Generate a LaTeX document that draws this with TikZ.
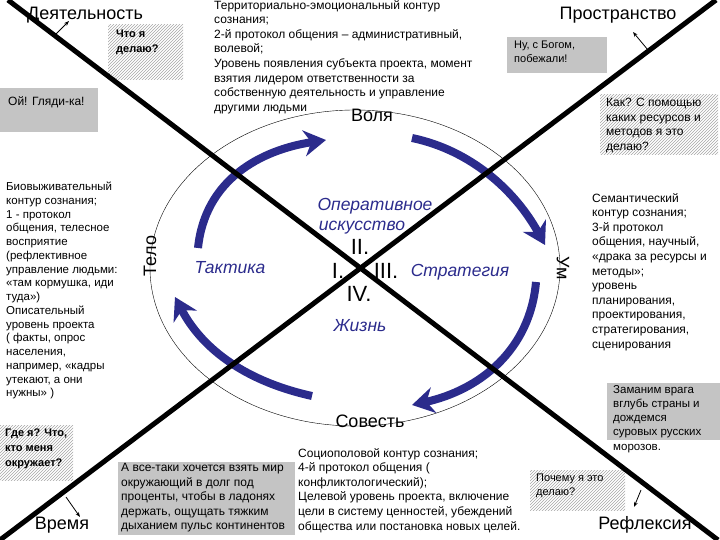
\documentclass[tikz,border=0pt]{standalone}
\usepackage{fontspec}
\setmainfont{Liberation Sans}
\usetikzlibrary{patterns,arrows.meta}
\definecolor{navy}{HTML}{2B2B8C}
\definecolor{boxgray}{HTML}{C4C4C4}
\begin{document}
\begin{tikzpicture}[x=1pt,y=-1pt,
  txt/.style={align=left,inner sep=0pt,font=\fontsize{12}{14.6}\selectfont},
  gbox/.style={fill=boxgray,inner sep=0pt},
  hbox/.style={pattern=north east lines,pattern color=gray!70},
  big/.style={inner sep=0pt,font=\fontsize{18}{20}\selectfont},
  it/.style={inner sep=0pt,text=navy,font=\fontsize{17.5}{20}\selectfont\itshape},
  roman/.style={inner sep=0pt,font=\fontsize{22}{24}\selectfont},
  cyc/.style={navy,line width=8pt,-{Stealth[length=22pt,width=26pt]}},
  ptr/.style={-{Stealth[length=5pt]},thick}]
\useasboundingbox (0,0) rectangle (720,540);
% boxes
\fill[gbox] (0,88) rectangle (98,132);
\fill[hbox] (108,25) rectangle (183,80);
\fill[gbox] (507,37) rectangle (607,73);
\fill[hbox] (600,95) rectangle (718,155);
\fill[gbox] (607,383) rectangle (720,440);
\fill[hbox] (0,425) rectangle (73,480);
\fill[gbox] (118,462) rectangle (295,535);
\fill[hbox] (530,470) rectangle (625,510);
% ellipse
\draw[thin] (355,268) ellipse [x radius=205,y radius=158];
% cycle arrows
\draw[cyc] (198,248) .. controls (205,180) and (260,150) .. (326,140);
\draw[cyc] (412,138) .. controls (470,150) and (515,190) .. (545,245);
\draw[cyc] (536,282) .. controls (530,350) and (480,390) .. (412,405);
\draw[cyc] (312,396) .. controls (240,380) and (200,345) .. (175,297);
% X
\coordinate (tl) at (8,0); \coordinate (br) at (718,540);
\coordinate (tr) at (716,0); \coordinate (bl) at (0,540);
\draw[line width=5pt] (tl) -- (br);
\draw[line width=5pt] (tr) -- (bl);
% texts
\node[big,anchor=west] (dey) at (27,15) {Деятельность};
\coordinate (d0) at (55,35); \coordinate (d1) at (69,21); \draw[ptr] (d0) -- (d1);
\node[txt,anchor=north west,font=\fontsize{11}{15}\selectfont\bfseries] (chto) at (116,30) {Что я\\делаю?};
\node[txt,anchor=west] (oi) at (8,102) {Ой! Гляди-ка!};
\node[txt,anchor=north west] (top) at (214,0) {Территориально-эмоциональный контур\\сознания;\\2-й протокол общения – административный,\\волевой;\\Уровень появления субъекта  проекта, момент\\взятия  лидером ответственности за\\собственную деятельность и управление\\другими людьми};
\node[big] (volya) at (372,115) {Воля};
\node[big] (pro) at (618,15) {Пространство};
\coordinate (p0) at (648,50); \coordinate (p1) at (633,32); \draw[ptr] (p0) -- (p1);
\node[txt,anchor=north west,font=\fontsize{11}{14}\selectfont] (bog) at (514,41) {Ну, с Богом,\\побежали!};
\node[txt,anchor=north west] (kak) at (606,98) {Как? С помощью\\каких ресурсов и\\методов я это\\делаю?};
\node[txt,anchor=north west,font=\fontsize{11.5}{13.75}\selectfont] (bio) at (6,182) {Биовыживательный\\контур сознания;\\1 - протокол\\общения, телесное\\восприятие\\ (рефлективное\\управление людьми:\\«там кормушка, иди\\туда»)\\Описательный\\уровень проекта\\( факты, опрос\\населения,\\например, «кадры\\утекают, а они\\нужны» )};
\node[big,rotate=90] (telo) at (150,256) {Тело};
\node[it] (takt) at (230,268) {Тактика};
\node[it] (oper) at (375,206) {Оперативное};
\node[it] (isk) at (362,228) {искусство};
\node[roman] (r2) at (360,247) {II.};
\node[roman] (r1) at (338,271) {I.};
\node[roman] (r3) at (386,271) {III.};
\node[roman] (r4) at (359,294) {IV.};
\node[it] (strat) at (460,272) {Стратегия};
\node[it] (zhizn) at (360,326) {Жизнь};
\node[big,rotate=-90] (um) at (563,268) {Ум};
\node[txt,anchor=north west] (sem) at (592,193) {Семантический\\контур сознания;\\3-й протокол\\общения, научный,\\«драка за ресурсы и\\методы»;\\уровень\\планирования,\\проектирования,\\стратегирования,\\сценирования};
\node[txt,anchor=north west,font=\fontsize{11.5}{14.2}\selectfont] (zam) at (613,385) {Заманим врага\\вглубь страны и\\дождемся\\суровых русских\\морозов.};
\node[big] (sov) at (370,421) {Совесть};
\node[txt,anchor=north west] (soc) at (298,448) {Социополовой контур сознания;\\4-й протокол общения (\\конфликтологический);\\Целевой уровень проекта, включение\\цели в систему ценностей, убеждений\\общества или постановка новых целей.};
\node[txt,anchor=north west] (vse) at (121,463) {А все-таки хочется взять мир\\окружающий в долг под\\проценты, чтобы в ладонях\\держать, ощущать тяжким\\дыханием пульс континентов};
\node[txt,anchor=north west,font=\fontsize{11}{15}\selectfont\bfseries] (gde) at (5,429) {Где я? Что,\\кто меня\\окружает?};
\node[big] (vr) at (62,525) {Время};
\coordinate (v0) at (66,497); \coordinate (v1) at (80,517); \draw[ptr] (v0) -- (v1);
\node[txt,anchor=north west,font=\fontsize{11}{14}\selectfont] (poch) at (536,474) {Почему я это\\делаю?};
\node[big] (ref) at (645,525) {Рефлексия};
\coordinate (f0) at (641,490); \coordinate (f1) at (634,507); \draw[ptr] (f0) -- (f1);
\end{tikzpicture}
\end{document}
